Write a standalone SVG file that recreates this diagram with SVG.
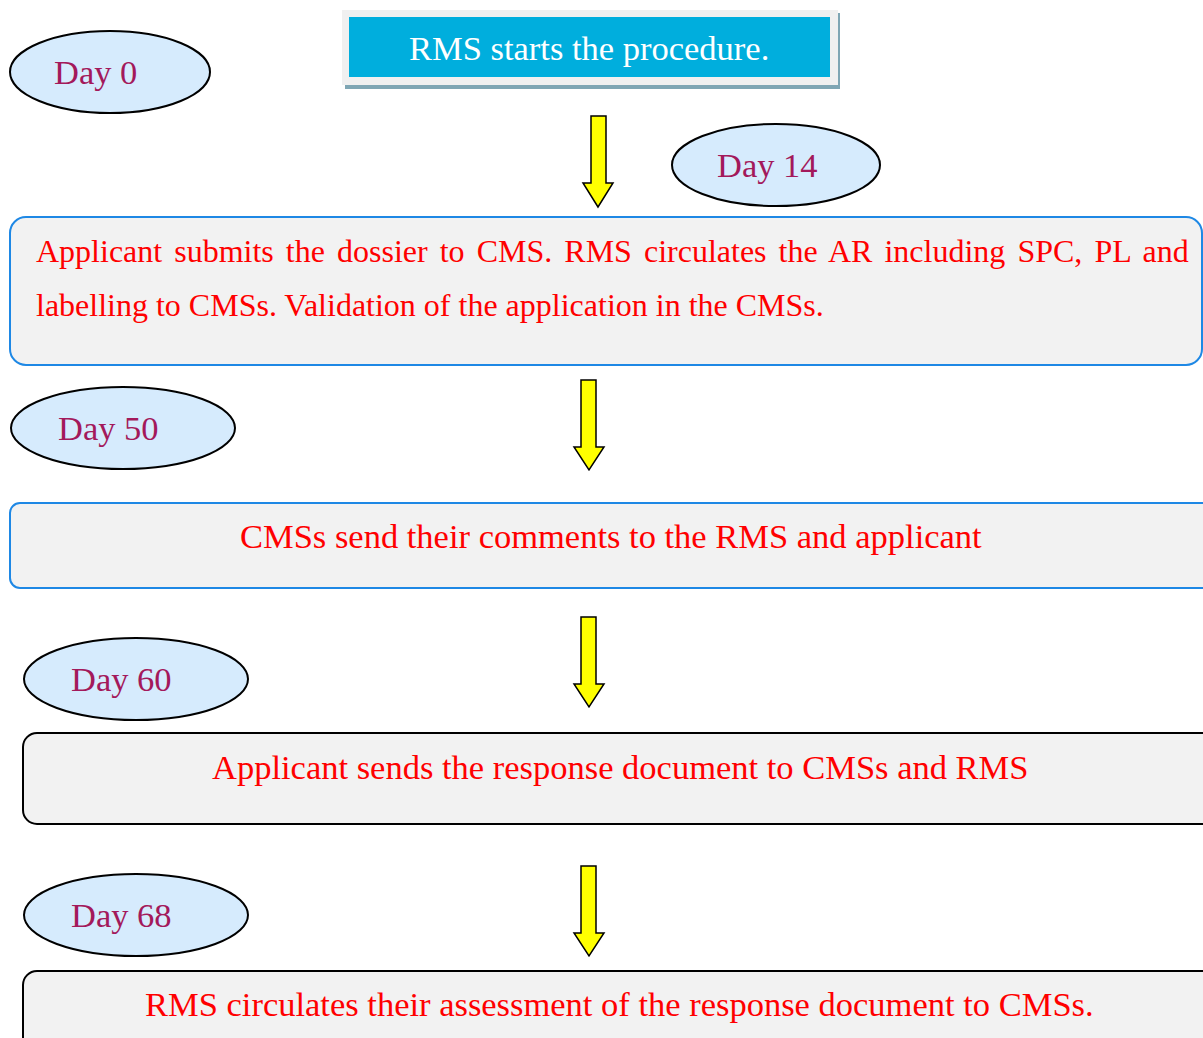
<svg xmlns="http://www.w3.org/2000/svg" width="1203" height="1038" viewBox="0 0 1203 1038">
<defs>
<style>
.day ellipse{fill:#D6EBFD;stroke:#000;stroke-width:2}
.day text{font-family:"Liberation Serif",serif;font-size:34.5px;fill:#A3195B}
.box rect{fill:#F2F2F2;stroke-width:2}
.blue rect{stroke:#1E88E5}
.black rect{stroke:#000}
.t{font-family:"Liberation Serif",serif;font-size:34.5px;fill:#FF0000}
.arrow{fill:#FFFF00;stroke:#000;stroke-width:1.5;stroke-linejoin:miter}
</style>
</defs>
<rect width="1203" height="1038" fill="#fff"/>

<g id="start">
<rect x="345" y="13" width="495" height="76" fill="#7FA6B4"/>
<rect x="342" y="10" width="496" height="75" fill="#F0F0F0"/>
<rect x="349" y="17" width="481" height="60" fill="#00AEDD"/>
<text x="409" y="60" font-family="Liberation Serif, serif" font-size="34.5" fill="#fff">RMS starts the procedure.</text>
</g>

<g id="day0" class="day"><ellipse cx="110" cy="72" rx="100" ry="41"/><text x="54" y="84">Day 0</text></g>
<g id="day14" class="day"><ellipse cx="776" cy="165" rx="104" ry="41"/><text x="717" y="177">Day 14</text></g>
<g id="day50" class="day"><ellipse cx="123" cy="428" rx="112" ry="41"/><text x="58" y="440">Day 50</text></g>
<g id="day60" class="day"><ellipse cx="136" cy="679" rx="112" ry="41"/><text x="71" y="691">Day 60</text></g>
<g id="day68" class="day"><ellipse cx="136" cy="915" rx="112" ry="41"/><text x="71" y="927">Day 68</text></g>

<g id="step1" class="box blue">
<rect x="10" y="217" width="1192" height="148" rx="16"/>
<text x="36" y="262" font-family="Liberation Serif, serif" font-size="32" fill="#FF0000" word-spacing="4.05">Applicant submits the dossier to CMS. RMS circulates the AR including SPC, PL and</text>
<text x="36" y="316" font-family="Liberation Serif, serif" font-size="32" fill="#FF0000">labelling to CMSs. Validation of the application in the CMSs.</text>
</g>

<g id="step2" class="box blue">
<rect x="10" y="503" width="1210" height="85" rx="10"/>
<text class="t" x="240" y="548">CMSs send their comments to the RMS and applicant</text>
</g>

<g id="step3" class="box black">
<rect x="23" y="733" width="1200" height="91" rx="14"/>
<text class="t" x="212" y="779">Applicant sends the response document to CMSs and RMS</text>
</g>

<g id="step4" class="box black">
<rect x="23" y="971" width="1200" height="100" rx="14"/>
<text class="t" x="145" y="1016">RMS circulates their assessment of the response document to CMSs.</text>
</g>

<g id="connectors">
<polygon class="arrow" points="591,116 606,116 606,183 613,183 598,207 583,183 591,183"/>
<polygon class="arrow" points="581,380 596,380 596,447 604,447 589,470 574,447 581,447"/>
<polygon class="arrow" points="581,617 596,617 596,684 604,684 589,707 574,684 581,684"/>
<polygon class="arrow" points="581,866 596,866 596,933 604,933 589,956 574,933 581,933"/>
</g>
</svg>
